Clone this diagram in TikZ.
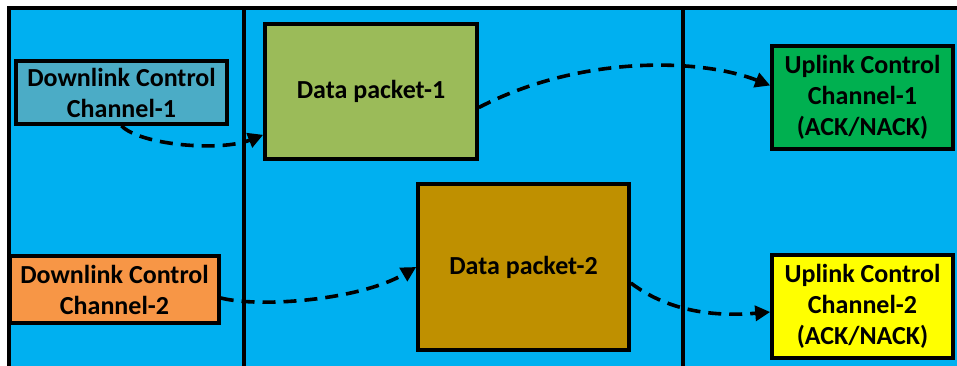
\documentclass[tikz,border=0pt]{standalone}
\usepackage{fontspec}
\setmainfont{Carlito}
\usetikzlibrary{arrows.meta}
\definecolor{bgblue}{HTML}{00B0F0}
\definecolor{dlone}{HTML}{4BACC6}
\definecolor{dltwo}{HTML}{F79646}
\definecolor{dpone}{HTML}{9BBB59}
\definecolor{dptwo}{HTML}{BF9000}
\definecolor{ulone}{HTML}{00B050}
\definecolor{ultwo}{HTML}{FFFF00}
\tikzset{
  box/.style={draw=black, line width=3.6pt, rectangle, inner sep=0pt, align=center,
    font=\fontsize{26}{31}\selectfont\bfseries},
  flow/.style={line width=3.6pt, dash pattern=on 13pt off 8pt,
    -{Triangle[length=15pt,width=15pt]}},
  sep/.style={line width=3.6pt}
}
\begin{document}
\begin{tikzpicture}[x=1pt,y=-1pt]
\useasboundingbox (0,0) rectangle (957,366);
\fill[white] (0,0) rectangle (957,366);
\fill[bgblue] (8,8) rectangle (960,370);
\draw[sep] (9,370) -- (9,8) -- (960,8);
\coordinate (t1) at (244,8);
\coordinate (b1) at (244,370);
\coordinate (t2) at (683,8);
\coordinate (b2) at (683,370);
\draw[sep] (t1) -- (b1);
\draw[sep] (t2) -- (b2);

\node[box, fill=dlone, minimum width=211pt, minimum height=63pt] (dl1) at (121.5,92.5) {Downlink Control\\Channel-1};
\node[box, fill=dltwo, minimum width=209pt, minimum height=67pt] (dl2) at (114.5,289.5) {Downlink Control\\Channel-2};
\node[box, fill=dpone, minimum width=212pt, minimum height=135pt] (dp1) at (371,91.5) {Data packet-1};
\node[box, fill=dptwo, minimum width=211pt, minimum height=166pt] (dp2) at (523.5,267) {Data packet-2};
\node[box, fill=ulone, minimum width=181pt, minimum height=103pt] (ul1) at (862.5,97.5) {Uplink Control\\Channel-1\\(ACK/NACK)};
\node[box, fill=ultwo, minimum width=181pt, minimum height=103pt] (ul2) at (862.5,306.5) {Uplink Control\\Channel-2\\(ACK/NACK)};

\draw[flow] (dl1.south) .. controls (140,145) and (220,152) .. ([yshift=26pt]dp1.south west);
\draw[flow] ([yshift=-16pt]dp1.east) .. controls (580,55) and (700,58) .. ([yshift=12pt]ul1.west);
\draw[flow] ([yshift=-8.5pt]dl2.east) .. controls (260,308) and (360,300) .. (dp2.west);
\draw[flow] ([yshift=-16pt]dp2.east) .. controls (660,305) and (700,318) .. ([yshift=-5.5pt]ul2.west);
\end{tikzpicture}
\end{document}
